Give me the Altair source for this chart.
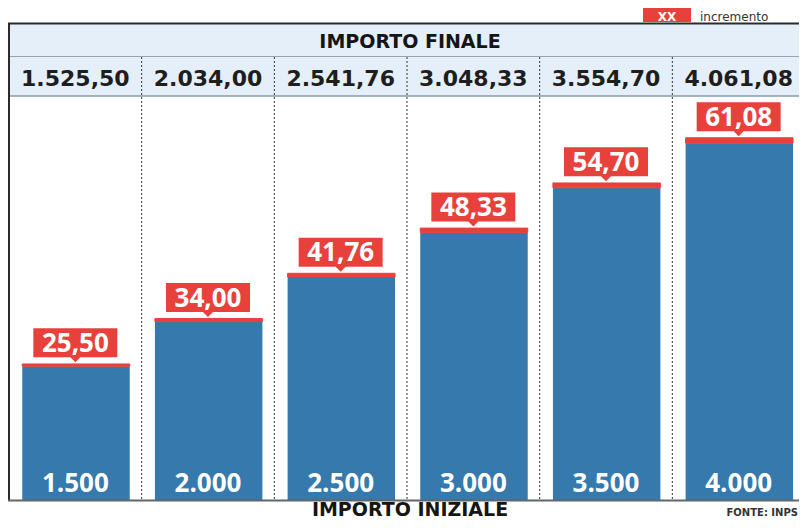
import altair as alt
import pandas as pd

# ---- data ----
importo_iniziale = [1500, 2000, 2500, 3000, 3500, 4000]
incremento = [25.50, 34.00, 41.76, 48.33, 54.70, 61.08]
importo_finale = [1525.50, 2034.00, 2541.76, 3048.33, 3554.70, 4061.08]


def it_fmt(v, dec):
    s = f"{v:,.{dec}f}"
    return s.replace(",", "#").replace(".", ",").replace("#", ".")


df = pd.DataFrame({
    "i": list(range(len(importo_iniziale))),
    "initial": importo_iniziale,
    "inc": incremento,
    "final": importo_finale,
    "lab_init": [it_fmt(v, 0) for v in importo_iniziale],
    "lab_inc": [it_fmt(v, 2) for v in incremento],
    "lab_final": [it_fmt(v, 2) for v in importo_finale],
})

BLUE = "#3579ad"
RED = "#e8413c"
HEAD_BG = "#e5eff9"
DARK = "#2b2b2b"

W, H = 791, 513
xs = alt.Scale(domain=[0, 6], range=[1, 797])
ys = alt.Scale(domain=[0, 5516], range=[492, 0])

base = alt.Chart(df).transform_calculate(
    x0="datum.i + 0.1", x1="datum.i + 0.91", xc="datum.i + 0.5"
)
one = alt.Chart(pd.DataFrame({"d": [0]}))

head_bg = one.mark_rect(color=HEAD_BG).encode(
    x=alt.value(1), x2=alt.value(W), y=alt.value(16), y2=alt.value(88))
top_border = one.mark_rule(color=DARK, strokeWidth=2).encode(
    x=alt.value(0), x2=alt.value(W), y=alt.value(15.5))
row_sep = one.mark_rule(color="#97a3ae", strokeWidth=1).encode(
    x=alt.value(1), x2=alt.value(W), y=alt.value(48.5))
head_bottom = one.mark_rule(color="#8d98a3", strokeWidth=1.5).encode(
    x=alt.value(1), x2=alt.value(W), y=alt.value(88))
left_border = one.mark_rule(color=DARK, strokeWidth=2).encode(
    x=alt.value(1), y=alt.value(15), y2=alt.value(492))

seps = base.transform_filter("datum.i > 0").mark_rule(
    color="#333333", strokeWidth=1, strokeDash=[2, 2]).encode(
    x=alt.X("i:Q", scale=xs, axis=None), y=alt.value(49), y2=alt.value(492))

bars = base.mark_bar(color=BLUE).encode(
    x=alt.X("x0:Q", scale=xs, axis=None), x2="x1:Q",
    y=alt.Y("initial:Q", scale=ys, axis=None), y2=alt.datum(0))

inc_bars = base.mark_bar(color=RED, stroke=RED, strokeWidth=1).encode(
    x=alt.X("x0:Q", scale=xs, axis=None), x2="x1:Q",
    y=alt.Y("final:Q", scale=ys, axis=None), y2="initial:Q")

CALLOUT = ("M-1,-0.848L1,-0.848L1,-0.157L0.119,-0.157L0,-0.038"
           "L-0.119,-0.157L-1,-0.157Z")
callout = base.mark_point(shape=CALLOUT, size=7056, filled=True,
                          color=RED, opacity=1, strokeWidth=0).encode(
    x=alt.X("xc:Q", scale=xs, axis=None),
    y=alt.Y("final:Q", scale=ys, axis=None))

inc_text = base.mark_text(font="Open Sans", fontWeight="bold", fontSize=26,
                          color="white", baseline="alphabetic", dy=-12).encode(
    x=alt.X("xc:Q", scale=xs, axis=None),
    y=alt.Y("final:Q", scale=ys, axis=None), text="lab_inc:N")

init_text = base.mark_text(font="Open Sans", fontWeight="bold", fontSize=26,
                           color="white", baseline="alphabetic", dy=-8).encode(
    x=alt.X("xc:Q", scale=xs, axis=None),
    y=alt.Y("zero:Q", scale=ys, axis=None), text="lab_init:N"
).transform_calculate(zero="0")

final_text = base.mark_text(font="DejaVu Sans", fontWeight="bold", fontSize=22,
                            color="#1e1e1e", baseline="alphabetic").encode(
    x=alt.X("xc:Q", scale=xs, axis=None), y=alt.value(77.7), text="lab_final:N")

title_top = one.mark_text(text="IMPORTO FINALE", font="DejaVu Sans",
                          fontWeight="bold", fontSize=19, color="#151515",
                          baseline="alphabetic").encode(
    x=alt.value(402), y=alt.value(40.3))

axis_line = one.mark_rule(color="#5f666c", strokeWidth=2).encode(
    x=alt.value(0), x2=alt.value(W), y=alt.value(492.5))

title_bottom = one.mark_text(text="IMPORTO INIZIALE", font="DejaVu Sans",
                             fontWeight="bold", fontSize=19, color="#151515",
                             baseline="alphabetic").encode(
    x=alt.value(402), y=alt.value(508))

source = one.mark_text(text="FONTE: INPS", font="DejaVu Sans",
                       fontWeight="bold", fontSize=10, color="#333333",
                       align="right", baseline="alphabetic").encode(
    x=alt.value(W - 1), y=alt.value(508))

leg_box = one.mark_rect(color=RED).encode(
    x=alt.value(635), x2=alt.value(683), y=alt.value(0), y2=alt.value(14))
leg_xx = one.mark_text(text="XX", font="DejaVu Sans", fontWeight="bold",
                       fontSize=12, color="white", baseline="alphabetic").encode(
    x=alt.value(659), y=alt.value(12.5))
leg_txt = one.mark_text(text="incremento", font="DejaVu Sans", fontSize=12,
                        color="#333333", align="left",
                        baseline="alphabetic").encode(
    x=alt.value(692), y=alt.value(12.5))

chart = alt.layer(
    head_bg, row_sep, head_bottom, top_border, left_border, seps,
    bars, inc_bars, callout, inc_text, init_text, final_text, title_top,
    axis_line, title_bottom, source, leg_box, leg_xx, leg_txt
).properties(
    width=W, height=H, autosize=alt.AutoSizeParams(type="none"), padding=0
).configure_view(stroke=None)

chart.save("out.html", embed_options={"renderer": "svg", "actions": False})
